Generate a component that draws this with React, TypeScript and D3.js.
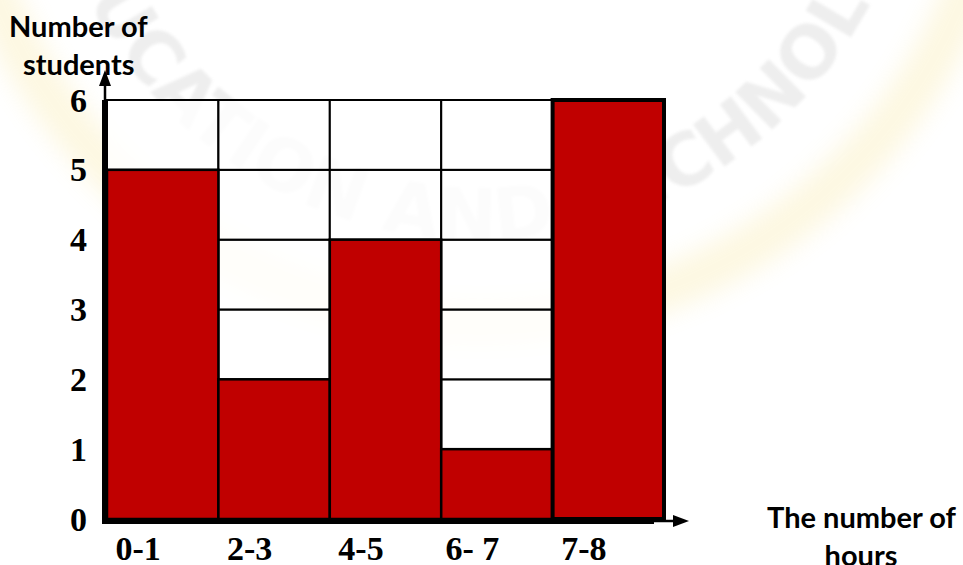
import React from 'react';
import { scaleBand, scaleLinear, range, arc } from 'd3';

const categories = ['0-1', '2-3', '4-5', '6- 7', '7-8'];
const students = [5, 2, 4, 1, 6];
const yTicks = [0, 1, 2, 3, 4, 5, 6];
const yTitle = ['Number of', 'students'];
const xTitle = ['The number of', 'hours'];
const watermark = 'EDUCATION AND TECHNOLOGY';

const W = 963;
const H = 565;
const RED = '#c00000';
const CX = 480;
const CY = -200;

export default function App() {
  const x = scaleBand().domain(categories).range([107, 664]);
  const y = scaleLinear().domain([0, 6]).range([519, 100]);
  const bw = x.bandwidth();
  const units = range(0, yTicks[yTicks.length - 1]);
  const x1 = x.range()[1];

  const ring = arc()({
    innerRadius: 500,
    outerRadius: 545,
    startAngle: 0,
    endAngle: Math.PI * 2,
  } as any);

  const r = 440;
  const textArc = `M ${CX - r} ${CY} A ${r} ${r} 0 0 0 ${CX + r} ${CY}`;

  return (
    <svg
      width={W}
      height={H}
      style={{ position: 'absolute', left: 0, top: 0, background: '#fff' }}
    >
      <defs>
        <path id="wmPath" d={textArc} />
        <filter id="blur">
          <feGaussianBlur stdDeviation="12" />
        </filter>
        <filter id="soft">
          <feGaussianBlur stdDeviation="1.5" />
        </filter>
      </defs>

      {/* faint watermark */}
      <g transform={`translate(${CX},${CY})`} opacity={0.2} filter="url(#blur)">
        <path d={ring || ''} fill="#f5dc6e" />
      </g>
      <text
        fontFamily="DejaVu Sans, sans-serif"
        fontWeight="bold"
        fontSize={72}
        fill="#cfcfcf"
        opacity={0.35}
        filter="url(#soft)"
        textAnchor="middle"
      >
        <textPath href="#wmPath" startOffset="52%">
          {watermark}
        </textPath>
      </text>

      {/* grid cells */}
      <g>
        {categories.map((c) =>
          units.map((u) => (
            <rect
              key={c + u}
              x={x(c)}
              y={y(u + 1)}
              width={bw}
              height={y(u) - y(u + 1)}
              fill="#fff"
              fillOpacity={0.8}
              stroke="#000"
              strokeWidth={2}
            />
          ))
        )}
      </g>

      {/* bars */}
      <g>
        {categories.map((c, i) => (
          <rect
            key={c}
            x={x(c)}
            y={y(students[i])}
            width={bw}
            height={y(0) - y(students[i])}
            fill={RED}
            stroke="#000"
            strokeWidth={i === categories.length - 1 ? 4 : 2.5}
          />
        ))}
      </g>

      {/* y axis */}
      <line x1={105} x2={105} y1={524} y2={100} stroke="#000" strokeWidth={6} />
      <line x1={105} x2={105} y1={100} y2={82} stroke="#000" strokeWidth={2.5} />
      <path d="M 105 70 L 99 86 L 111 86 Z" fill="#000" />
      {yTicks.map((t) => (
        <text
          key={t}
          x={87}
          y={y(t)}
          textAnchor="end"
          dominantBaseline="central"
          fontFamily="Liberation Serif, serif"
          fontWeight="bold"
          fontSize={34}
        >
          {t}
        </text>
      ))}

      {/* x axis */}
      <line x1={102} x2={x1 - 10} y1={521} y2={521} stroke="#000" strokeWidth={6} />
      <line x1={x1 - 10} x2={678} y1={521} y2={521} stroke="#000" strokeWidth={2.5} />
      <path d="M 689 521 L 673 515 L 673 527 Z" fill="#000" />
      {categories.map((c) => (
        <text
          key={c}
          x={(x(c) as number) + bw * 0.28}
          y={560}
          textAnchor="middle"
          fontFamily="Liberation Serif, serif"
          fontWeight="bold"
          fontSize={34}
        >
          {c}
        </text>
      ))}

      {/* titles */}
      <text x={9} y={37} fontFamily="Lato, sans-serif" fontWeight="bold" fontSize={29}>
        {yTitle[0]}
      </text>
      <text x={23} y={75} fontFamily="Lato, sans-serif" fontWeight="bold" fontSize={29}>
        {yTitle[1]}
      </text>
      <text x={956} y={528} textAnchor="end" fontFamily="Lato, sans-serif" fontWeight="bold" fontSize={29}>
        {xTitle[0]}
      </text>
      <text x={861} y={566} textAnchor="middle" fontFamily="Lato, sans-serif" fontWeight="bold" fontSize={29}>
        {xTitle[1]}
      </text>
    </svg>
  );
}
